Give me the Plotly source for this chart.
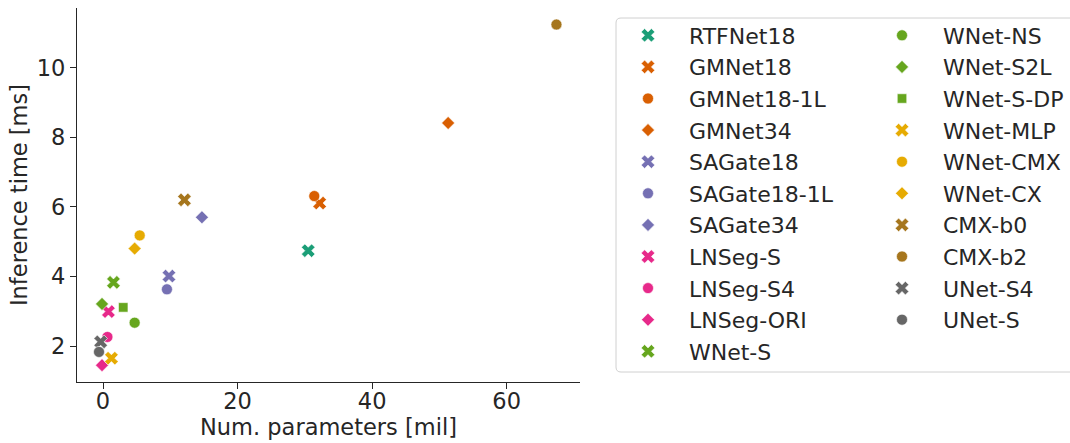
import plotly.graph_objects as go

# ---- data ----
models = ["RTFNet18", "GMNet18", "GMNet18-1L", "GMNet34", "SAGate18", "SAGate18-1L",
          "SAGate34", "LNSeg-S", "LNSeg-S4", "LNSeg-ORI", "WNet-S", "WNet-NS",
          "WNet-S2L", "WNet-S-DP", "WNet-MLP", "WNet-CMX", "WNet-CX", "CMX-b0",
          "CMX-b2", "UNet-S4", "UNet-S"]
num_params = [30.5, 32.2, 31.4, 51.3, 9.8, 9.5, 14.7, 0.8, 0.65, -0.15, 1.55, 4.7,
              -0.15, 3.0, 1.25, 5.45, 4.7, 12.1, 67.4, -0.35, -0.6]
inference_ms = [4.74, 6.11, 6.31, 8.41, 4.01, 3.63, 5.70, 2.99, 2.26, 1.45, 3.83, 2.67,
                3.21, 3.11, 1.65, 5.18, 4.80, 6.20, 11.24, 2.12, 1.83]
x_ticks = [0, 20, 40, 60]
y_ticks = [2, 4, 6, 8, 10]

# ---- styles ----
palette = {"teal": "#1b9e77", "orange": "#d95f02", "purple": "#7570b3", "pink": "#e7298a",
           "green": "#66a61e", "yellow": "#e6ab02", "brown": "#a6761d", "gray": "#666666"}
color_keys = ["teal", "orange", "orange", "orange", "purple", "purple", "purple",
              "pink", "pink", "pink", "green", "green", "green", "green",
              "yellow", "yellow", "yellow", "brown", "brown", "gray", "gray"]
symbols = ["x", "x", "circle", "diamond", "x", "circle", "diamond", "x", "circle",
           "diamond", "x", "circle", "diamond", "square", "x", "circle", "diamond",
           "x", "circle", "x", "circle"]
sizes = {"x": 12, "circle": 11, "diamond": 10, "square": 9.5}

TXT = "#262626"
FONT = "DejaVu Sans"
W, H = 1070, 443
L, R, T, B = 77, 580, 8, 382
FS = 22.5

fig = go.Figure()
for i, name in enumerate(models):
    fig.add_trace(go.Scatter(
        x=[num_params[i]], y=[inference_ms[i]], mode="markers", name=name,
        marker=dict(symbol=symbols[i], color=palette[color_keys[i]],
                    size=sizes[symbols[i]], line=dict(color="white", width=0.6)),
        legend="legend" if i < 11 else "legend2",
    ))

def px_x(p):
    return (p - L) / (R - L)

def px_y(p):
    return (B - p) / (B - T)

legend_common = dict(font=dict(family=FONT, size=22, color=TXT), bgcolor="rgba(0,0,0,0)",
                     borderwidth=0, itemwidth=72, tracegroupgap=0,
                     xanchor="left", yanchor="top", itemclick=False)

axis_common = dict(ticks="outside", ticklen=6, tickwidth=1.25, tickcolor=TXT,
                   showline=True, linecolor=TXT, linewidth=1.25, showgrid=False,
                   zeroline=False, tickfont=dict(size=FS, color=TXT), automargin=False)

# legend frame with rounded left corners (right side runs off the figure)
bx0, bx1, by0, by1, rr = 616, 1085, 18, 372, 5
rx, ry = rr / (R - L), rr / (B - T)
X0, X1, Yt, Yb = px_x(bx0), px_x(bx1), px_y(by0), px_y(by1)
frame_path = (f"M {X0 + rx},{Yt} L {X1},{Yt} L {X1},{Yb} L {X0 + rx},{Yb} "
              f"Q {X0},{Yb} {X0},{Yb + ry} L {X0},{Yt - ry} Q {X0},{Yt} {X0 + rx},{Yt} Z")

fig.update_layout(
    width=W, height=H,
    margin=dict(l=L, r=W - R, t=T, b=H - B, pad=0, autoexpand=False),
    paper_bgcolor="white", plot_bgcolor="white",
    font=dict(family=FONT, color=TXT, size=FS),
    legend=dict(x=px_x(607), y=px_y(14.5), **legend_common),
    legend2=dict(x=px_x(861), y=px_y(14.5), **legend_common),
    xaxis=dict(range=[-3.87, 70.9], tickvals=x_ticks, ticklabelstandoff=-7, **axis_common,
               title=dict(text="Num. parameters [mil]", font=dict(size=FS, color=TXT), standoff=6)),
    yaxis=dict(range=[0.966, 11.715], tickvals=y_ticks, **axis_common,
               title=dict(text="Inference time [ms]", font=dict(size=FS, color=TXT), standoff=2)),
    shapes=[dict(type="path", xref="paper", yref="paper", path=frame_path,
                 line=dict(color="#d0d0d0", width=1), fillcolor="rgba(0,0,0,0)", layer="below")],
)

fig.write_html("out.html")
